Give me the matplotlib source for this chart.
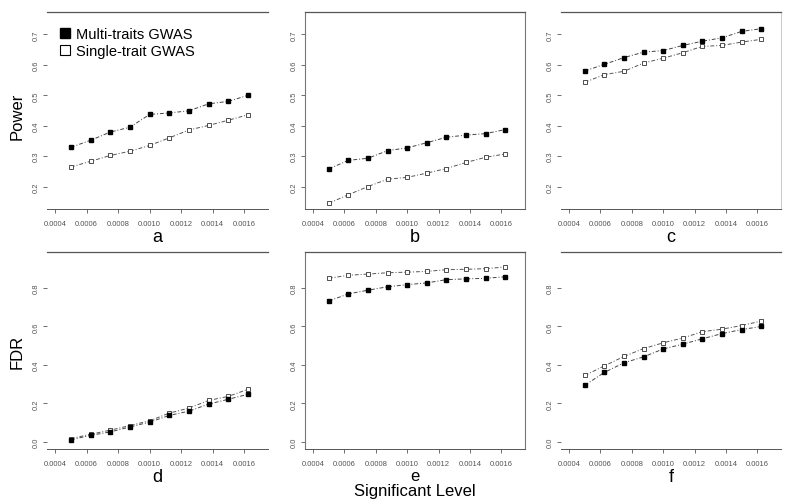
import numpy as np
import matplotlib.pyplot as plt
from matplotlib.lines import Line2D

plt.rcParams['font.family'] = ['Liberation Sans', 'DejaVu Sans']

niveles = [0.0005, 0.000625, 0.00075, 0.000875, 0.001, 0.001125, 0.00125, 0.001375, 0.0015, 0.001625]
letras = ['a', 'b', 'c', 'd', 'e', 'f']

# Power (fila superior)
multi_a = [0.329, 0.352, 0.379, 0.395, 0.437, 0.442, 0.449, 0.472, 0.480, 0.500]
single_a = [0.264, 0.283, 0.302, 0.316, 0.335, 0.360, 0.386, 0.401, 0.418, 0.436]
multi_b = [0.258, 0.286, 0.293, 0.318, 0.327, 0.344, 0.362, 0.369, 0.374, 0.387]
single_b = [0.145, 0.173, 0.200, 0.224, 0.230, 0.244, 0.259, 0.279, 0.296, 0.307]
multi_c = [0.580, 0.602, 0.624, 0.642, 0.647, 0.664, 0.678, 0.689, 0.710, 0.719]
single_c = [0.543, 0.568, 0.579, 0.606, 0.622, 0.640, 0.661, 0.664, 0.675, 0.684]

# FDR (fila inferior)
multi_d = [0.010, 0.033, 0.051, 0.077, 0.102, 0.137, 0.159, 0.196, 0.221, 0.247]
single_d = [0.016, 0.039, 0.060, 0.084, 0.109, 0.149, 0.175, 0.215, 0.236, 0.273]
multi_e = [0.733, 0.770, 0.789, 0.807, 0.818, 0.827, 0.844, 0.848, 0.851, 0.859]
single_e = [0.851, 0.867, 0.873, 0.880, 0.883, 0.887, 0.896, 0.898, 0.901, 0.910]
multi_f = [0.294, 0.361, 0.411, 0.442, 0.483, 0.508, 0.536, 0.563, 0.584, 0.600]
single_f = [0.345, 0.395, 0.444, 0.485, 0.515, 0.540, 0.573, 0.586, 0.605, 0.628]

series = [(multi_a, single_a), (multi_b, single_b), (multi_c, single_c),
          (multi_d, single_d), (multi_e, single_e), (multi_f, single_f)]

W, H = 793, 502
fig = plt.figure(figsize=(W / 100, H / 100), dpi=100)

# cajas en pixeles: izquierda, derecha, arriba, abajo
cajas = [(47, 268, 13, 210), (305, 525, 13, 210), (561, 781, 13, 210),
         (47, 268, 253, 450), (305, 525, 253, 450), (561, 781, 253, 450)]
# que bordes laterales se ven en la imagen
laterales = {'a': ('none', 'none'), 'b': ('#777777', '#777777'), 'c': ('none', '#cccccc'),
             'd': ('none', 'none'), 'e': ('#777777', '#777777'), 'f': ('none', 'none')}

estilo = (0, (4, 2, 1, 2))

for i, (letra, (multi, single), caja) in enumerate(zip(letras, series, cajas)):
    l, r, t, b = caja
    ax = fig.add_axes([l / W, 1 - b / H, (r - l) / W, (b - t) / H])
    ax.plot(niveles, single, linestyle=estilo, color='#555555', lw=0.7,
            marker='s', ms=3.2, mfc='white', mec='#333333', mew=0.6)
    ax.plot(niveles, multi, linestyle=estilo, color='#444444', lw=0.7,
            marker='s', ms=3.2, mfc='black', mec='black')
    ax.set_xlim(0.000348, 0.001752)
    ax.set_xticks([0.0004, 0.0006, 0.0008, 0.0010, 0.0012, 0.0014, 0.0016])
    ax.set_xticklabels(['0.0004', '0.0006', '0.0008', '0.0010', '0.0012', '0.0014', '0.0016'])
    if i < 3:
        ax.set_ylim(0.126, 0.774)
        ax.set_yticks([0.2, 0.3, 0.4, 0.5, 0.6, 0.7])
        ax.set_yticklabels(['0.2', '0.3', '0.4', '0.5', '0.6', '0.7'])
    else:
        ax.set_ylim(-0.038, 0.988)
        ax.set_yticks([0.0, 0.2, 0.4, 0.6, 0.8])
        ax.set_yticklabels(['0.0', '0.2', '0.4', '0.6', '0.8'])
    ax.tick_params(axis='both', labelsize=5.5, labelcolor='#555555', color='#555555',
                   length=3, width=0.6, pad=2)
    ax.tick_params(axis='x', pad=5)
    for lab in ax.get_yticklabels():
        lab.set_rotation(90)
        lab.set_va('center')
    ax.spines['top'].set_color('#555555')
    ax.spines['bottom'].set_color('#555555')
    ax.spines['top'].set_linewidth(0.9)
    ax.spines['bottom'].set_linewidth(0.7)
    izq, der = laterales[letra]
    ax.spines['left'].set_color(izq)
    ax.spines['right'].set_color(der)
    if letra == 'e':
        ax.set_xlabel('e\nSignificant Level', fontsize=12, labelpad=1, linespacing=1.0)
    else:
        ax.set_xlabel(letra, fontsize=13, labelpad=1)

fig.text(17 / W, 1 - 116 / H, 'Power', fontsize=12, rotation=90, ha='center', va='center')
fig.text(17 / W, 1 - 352 / H, 'FDR', fontsize=12, rotation=90, ha='center', va='center')

# leyenda del panel a
ax0 = fig.axes[0]
handles = [Line2D([], [], linestyle='none', marker='s', ms=7.5, mfc='black', mec='black'),
           Line2D([], [], linestyle='none', marker='s', ms=7.5, mfc='white', mec='black', mew=0.8)]
ax0.legend(handles, ['Multi-traits GWAS', 'Single-trait GWAS'], loc='upper left',
           bbox_to_anchor=(0.03, 0.955), frameon=False, fontsize=10.5,
           handlelength=0.8, handletextpad=0.3, labelspacing=0.2, borderaxespad=0)

plt.savefig('out.png', dpi=100)
